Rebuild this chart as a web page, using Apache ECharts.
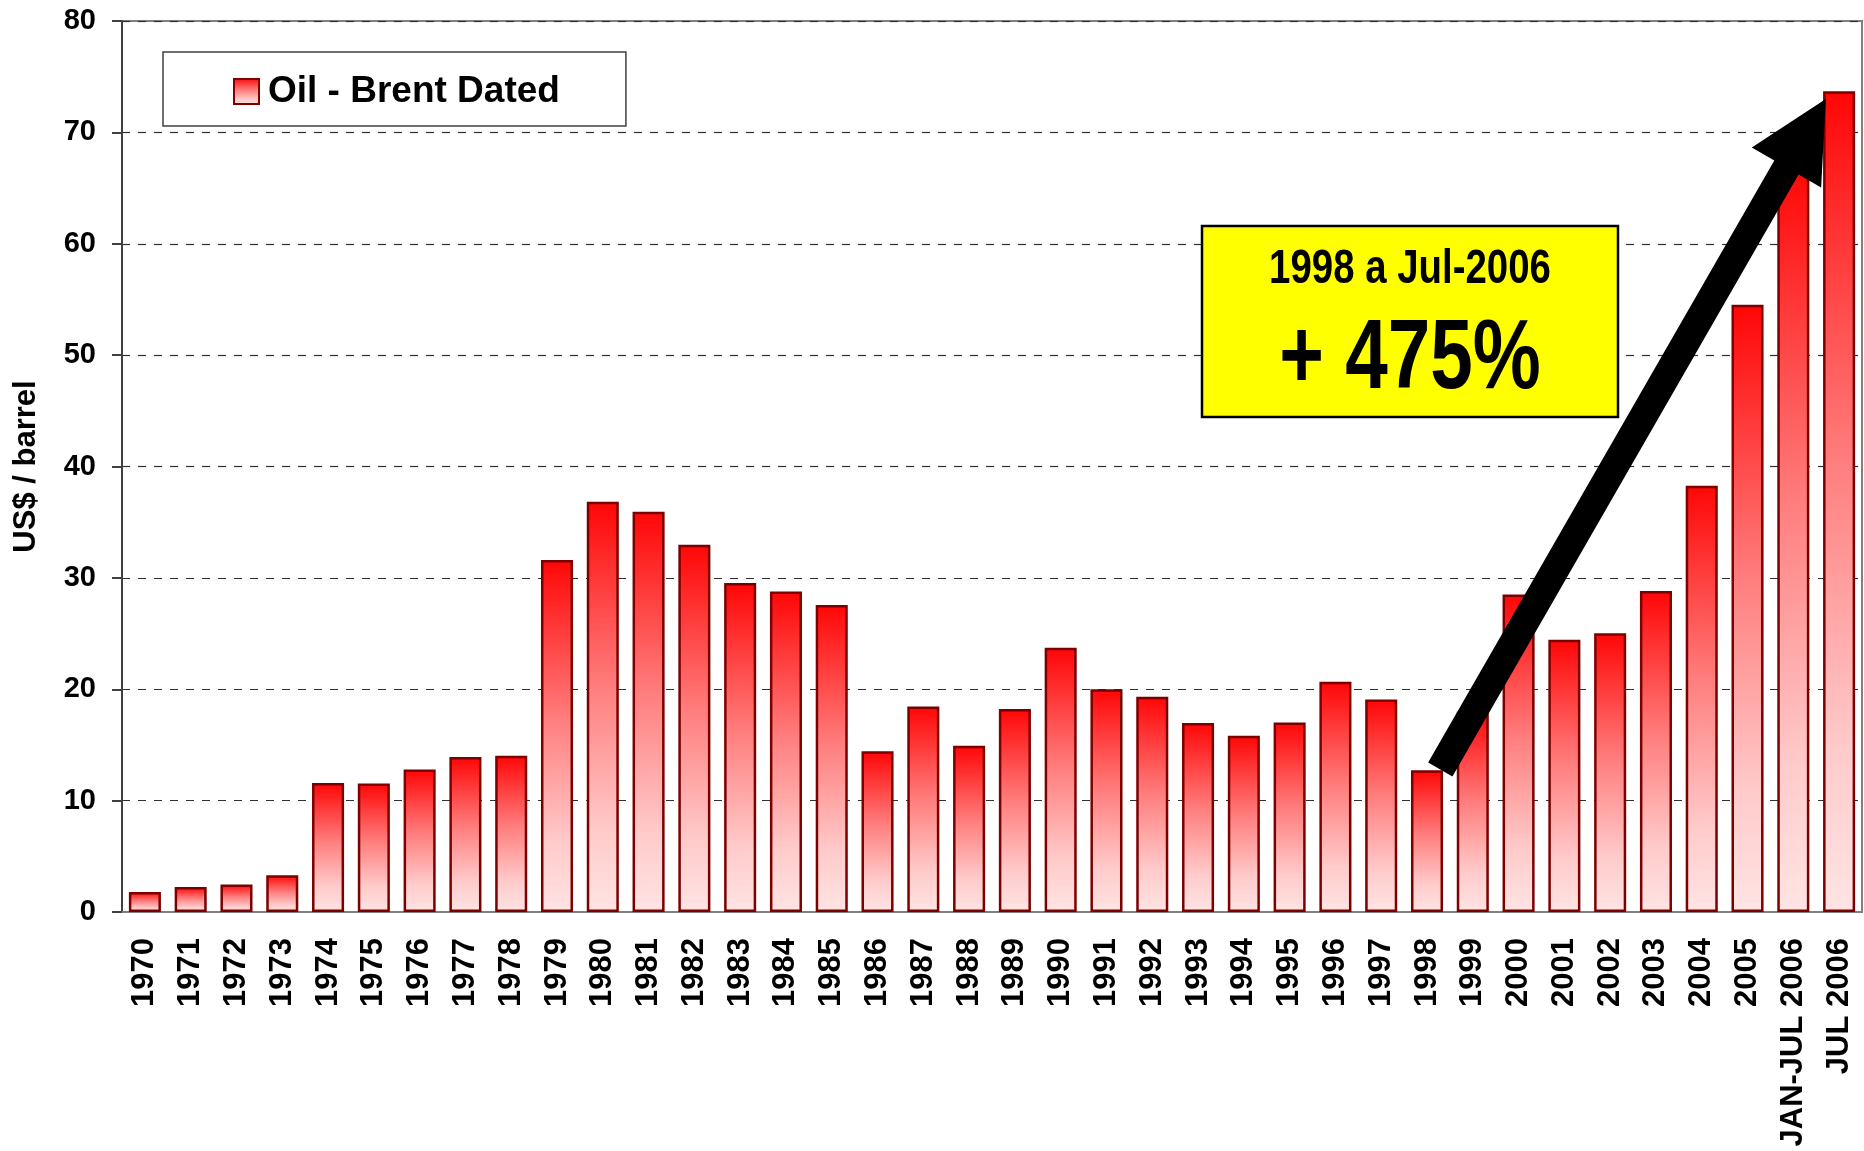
<!DOCTYPE html>
<html>
<head>
<meta charset="utf-8">
<title>Oil - Brent Dated</title>
<script src="https://cdn.jsdelivr.net/npm/echarts@6/dist/echarts.min.js"></script>
<style>
  html, body { margin: 0; padding: 0; background: #ffffff; }
  #main { width: 1864px; height: 1151px; }
</style>
</head>
<body>
<div id="main"></div>
<script>
// categorias (anos)
var years = ['1970', '1971', '1972', '1973', '1974', '1975', '1976', '1977', '1978', '1979',
  '1980', '1981', '1982', '1983', '1984', '1985', '1986', '1987', '1988', '1989',
  '1990', '1991', '1992', '1993', '1994', '1995', '1996', '1997', '1998', '1999',
  '2000', '2001', '2002', '2003', '2004', '2005', 'JAN-JUL 2006', 'JUL 2006'];

// US$ / barrel
var brentDated = [1.80, 2.24, 2.48, 3.29, 11.58, 11.53, 12.80, 13.92, 14.02, 31.61,
  36.83, 35.93, 32.97, 29.55, 28.78, 27.56, 14.43, 18.44, 14.92, 18.23,
  23.73, 20.00, 19.32, 16.97, 15.82, 17.02, 20.67, 19.09, 12.72, 17.97,
  28.50, 24.44, 25.02, 28.83, 38.27, 54.52, 67.0, 73.7];

var yTicks = [0, 10, 20, 30, 40, 50, 60, 70, 80];

// seta 1998 -> Jul-2006
var arrowFrom = ['1998', 12.8];
var arrowTo = ['JUL 2006', 73.0];

var boxTitle = '1998 a Jul-2006';
var boxValue = '+ 475%';

var chartDom = document.getElementById('main');
var myChart = echarts.init(chartDom);
var option;

var barFill = new echarts.graphic.LinearGradient(0, 0, 0, 1, [
  { offset: 0, color: '#ff0606' },
  { offset: 0.45, color: '#ff7d7d' },
  { offset: 0.8, color: '#ffcaca' },
  { offset: 1, color: '#ffe4e4' }
]);

option = {
  animation: false,
  backgroundColor: '#ffffff',
  textStyle: { fontFamily: 'Liberation Sans, Arial, sans-serif' },
  grid: {
    left: 122,
    right: 2,
    top: 21,
    bottom: 239,
    show: true,
    borderColor: '#808080',
    borderWidth: 2
  },
  legend: {
    left: 163,
    top: 52,
    padding: [21, 66, 16, 70],
    borderColor: '#404040',
    borderWidth: 1.5,
    backgroundColor: '#ffffff',
    itemWidth: 25,
    itemHeight: 25,
    icon: 'rect',
    textStyle: {
      fontSize: 37,
      fontWeight: 'bold',
      color: '#000000',
      lineHeight: 37,
      padding: [0, 0, 0, 4]
    },
    data: ['Oil - Brent Dated']
  },
  xAxis: {
    type: 'category',
    data: years,
    axisLine: { lineStyle: { color: '#808080', width: 2 } },
    axisTick: { length: 10, lineStyle: { color: '#404040', width: 2 } },
    axisLabel: {
      rotate: 90,
      margin: 26,
      interval: 0,
      fontSize: 31,
      fontWeight: 'bold',
      color: '#000000'
    }
  },
  yAxis: {
    type: 'value',
    min: yTicks[0],
    max: yTicks[yTicks.length - 1],
    interval: yTicks[1] - yTicks[0],
    name: 'US$ / barrel',
    nameLocation: 'middle',
    nameRotate: 90,
    nameGap: 80,
    nameTextStyle: { fontSize: 31, fontWeight: 'bold', color: '#000000' },
    axisLine: { show: true, lineStyle: { color: '#404040', width: 2 } },
    axisTick: { show: true, length: 10, lineStyle: { color: '#404040', width: 2 } },
    axisLabel: { margin: 26, fontSize: 29, fontWeight: 'bold', color: '#000000' },
    splitLine: { lineStyle: { color: '#303030', type: [8, 8], width: 1.2 } }
  },
  series: [
    {
      name: 'Oil - Brent Dated',
      type: 'bar',
      barWidth: '70%',
      data: brentDated,
      itemStyle: {
        color: barFill,
        borderColor: '#7d0000',
        borderWidth: 2.5
      }
    }
  ]
};

option && myChart.setOption(option);

// caixa amarela + seta (posicao da seta a partir dos dados)
function drawNotes() {
  var p0 = myChart.convertToPixel({ gridIndex: 0 }, arrowFrom);
  var p1 = myChart.convertToPixel({ gridIndex: 0 }, arrowTo);
  var band = myChart.convertToPixel({ gridIndex: 0 }, ['1971', 0])[0] -
    myChart.convertToPixel({ gridIndex: 0 }, ['1970', 0])[0];
  var sx = p0[0] + band * 0.29, sy = p0[1];
  var tx = p1[0] - band * 0.29, ty = p1[1];
  var dx = tx - sx, dy = ty - sy;
  var len = Math.sqrt(dx * dx + dy * dy);
  var ux = dx / len, uy = dy / len;
  var nx = -uy, ny = ux;
  var headLen = 79, headHalf = 40, shaftHalf = 14;
  var bx = tx - ux * headLen, by = ty - uy * headLen;
  var pts = [
    [sx + nx * shaftHalf, sy + ny * shaftHalf],
    [bx + nx * shaftHalf, by + ny * shaftHalf],
    [bx + nx * headHalf, by + ny * headHalf],
    [tx, ty],
    [bx - nx * headHalf, by - ny * headHalf],
    [bx - nx * shaftHalf, by - ny * shaftHalf],
    [sx - nx * shaftHalf, sy - ny * shaftHalf]
  ];

  // sem fonte "narrow" instalada: comprime a Liberation Sans na horizontal
  myChart.setOption({
    graphic: [
      {
        type: 'rect',
        z: 100,
        shape: { x: 1202, y: 226, width: 416, height: 191 },
        style: { fill: '#ffff00', stroke: '#000000', lineWidth: 2.5 }
      },
      {
        type: 'text',
        z: 101,
        x: 1410,
        y: 270,
        scaleX: 0.8,
        style: {
          text: boxTitle,
          fill: '#000000',
          font: 'bold 48px "Liberation Sans", Arial, sans-serif',
          align: 'center',
          verticalAlign: 'middle'
        }
      },
      {
        type: 'text',
        z: 101,
        x: 1410,
        y: 361,
        scaleX: 0.78,
        style: {
          text: boxValue,
          fill: '#000000',
          font: 'bold 98px "Liberation Sans", Arial, sans-serif',
          align: 'center',
          verticalAlign: 'middle'
        }
      },
      {
        type: 'polygon',
        z: 102,
        shape: { points: pts },
        style: { fill: '#000000' }
      }
    ]
  });
}
drawNotes();
</script>
</body>
</html>
